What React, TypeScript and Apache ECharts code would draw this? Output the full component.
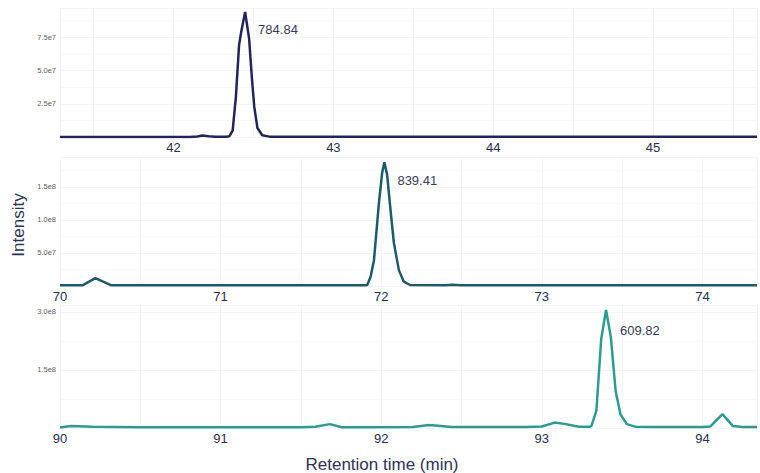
import React, { useEffect, useRef } from "react";
import * as echarts from "echarts";

// Panel 1 (peak 784.84)
const time1 = [41.29, 42.1, 42.15, 42.18, 42.22, 42.26, 42.33, 42.35, 42.37, 42.39, 42.41, 42.425, 42.448, 42.473, 42.49, 42.505, 42.525, 42.555, 42.6, 43.5, 45.65];
const int1 = [0.03e7, 0.03e7, 0.06e7, 0.13e7, 0.08e7, 0.04e7, 0.04e7, 0.08e7, 0.5e7, 3.0e7, 6.9e7, 8.0e7, 9.4e7, 7.4e7, 4.5e7, 2.3e7, 0.7e7, 0.15e7, 0.05e7, 0.04e7, 0.04e7];

// Panel 2 (peak 839.41)
const time2 = [70.0, 70.14, 70.22, 70.32, 71.9, 71.913, 71.934, 71.955, 71.986, 72.006, 72.02, 72.037, 72.058, 72.079, 72.11, 72.141, 72.18, 72.4, 72.44, 72.5, 74.34];
const int2 = [0.1e7, 0.1e7, 1.2e7, 0.1e7, 0.1e7, 0.15e7, 1.4e7, 3.9e7, 12.6e7, 17.1e7, 18.7e7, 16.8e7, 11.5e7, 6.5e7, 2.4e7, 0.65e7, 0.15e7, 0.12e7, 0.2e7, 0.1e7, 0.1e7];

// Panel 3 (peak 609.82)
const time3 = [90.0, 90.07, 90.2, 90.5, 91.5, 91.59, 91.68, 91.755, 91.9, 92.196, 92.3, 92.44, 92.9, 93.0, 93.08, 93.15, 93.23, 93.3, 93.31, 93.34, 93.37, 93.4, 93.43, 93.46, 93.49, 93.53, 93.58, 93.7, 94.0, 94.05, 94.125, 94.19, 94.25, 94.34];
const int3 = [0.1e7, 0.5e7, 0.3e7, 0.2e7, 0.2e7, 0.3e7, 1.0e7, 0.2e7, 0.2e7, 0.25e7, 0.75e7, 0.25e7, 0.25e7, 0.4e7, 1.4e7, 1.0e7, 0.3e7, 0.3e7, 0.6e7, 4.5e7, 23.0e7, 30.5e7, 23.5e7, 9.5e7, 3.5e7, 1.0e7, 0.35e7, 0.25e7, 0.25e7, 0.4e7, 3.6e7, 0.5e7, 0.25e7, 0.25e7];

const peakLabels = ["784.84", "839.41", "609.82"];
const xRanges = [[41.29, 45.65], [70, 74.34], [90, 94.34]];
const yMax = [9.7e7, 1.95e8, 3.18e8];
const yInterval = [2.5e7, 5e7, 1.5e8];
const colors = ["#23255a", "#1f5a6a", "#2a9d8f"];

const FONT = "Liberation Sans, Arial, sans-serif";

export default function App() {
  const ref = useRef<HTMLDivElement>(null);
  useEffect(() => {
    if (!ref.current) return;
    const chart = echarts.init(ref.current, undefined, { renderer: "svg" });
    const times = [time1, time2, time3];
    const ints = [int1, int2, int3];
    const grids = [
      { left: 60, right: 0, top: 8, height: 129.3 },
      { left: 60, right: 0, top: 157, height: 129 },
      { left: 60, right: 0, top: 305, height: 123 },
    ];
    const labelOffsets = [[8, 18], [8, 18], [9, 20]];
    const option: any = {
      animation: false,
      backgroundColor: "#ffffff",
      textStyle: { fontFamily: FONT },
      grid: grids,
      xAxis: grids.map((_, i) => ({
        type: "value",
        gridIndex: i,
        min: xRanges[i][0],
        max: xRanges[i][1],
        minInterval: 0.5,
        maxInterval: 0.5,
        axisLine: { show: false },
        axisTick: { show: false },
        axisLabel: {
          interval: 0,
          margin: 4,
          fontSize: 13,
          color: "#2b2d4a",
          fontFamily: FONT,
          formatter: (v: number) => (Math.abs(v - Math.round(v)) < 1e-6 ? String(Math.round(v)) : ""),
        },
        splitLine: { show: true, lineStyle: { color: "#f4f4f7", width: 1 } },
      })),
      yAxis: grids.map((_, i) => ({
        type: "value",
        gridIndex: i,
        min: 0,
        max: yMax[i],
        interval: yInterval[i],
        axisLine: { show: false },
        axisTick: { show: false },
        axisLabel: {
          showMaxLabel: false,
          margin: 4,
          fontSize: 7.5,
          color: "#5c5c66",
          fontFamily: FONT,
          formatter: (v: number) => (v === 0 ? "" : v.toExponential(1).replace("e+", "e")),
        },
        splitLine: { show: true, lineStyle: { color: "#f4f4f7", width: 1 } },
        minorTick: { show: false, splitNumber: 2 },
        minorSplitLine: { show: true, lineStyle: { color: "#f8f8fa", width: 1 } },
      })),
      series: [0, 1, 2].map((i) => {
        let pk = 0;
        ints[i].forEach((v, j) => {
          if (v > ints[i][pk]) pk = j;
        });
        return {
          type: "line",
          xAxisIndex: i,
          yAxisIndex: i,
          showSymbol: false,
          symbol: "none",
          smooth: false,
          lineStyle: { color: colors[i], width: 2.5 },
          data: times[i].map((t, j) => [t, ints[i][j]]),
          markPoint: {
            symbol: "circle",
            symbolSize: 0,
            silent: true,
            label: {
              show: true,
              position: "right",
              distance: 5,
              offset: labelOffsets[i],
              formatter: peakLabels[i],
              fontSize: 13,
              color: "#3a3b58",
              fontFamily: FONT,
            },
            data: [{ coord: [times[i][pk], ints[i][pk]] }],
          },
        };
      }),
      graphic: [
        {
          type: "text",
          x: 18,
          y: 225,
          rotation: Math.PI / 2,
          style: {
            text: "Intensity",
            fontSize: 17,
            fontFamily: FONT,
            fill: "#2f3258",
            align: "center",
            verticalAlign: "middle",
          },
        },
        {
          type: "text",
          x: 382,
          y: 464,
          style: {
            text: "Retention time (min)",
            fontSize: 17,
            fontFamily: FONT,
            fill: "#2f3258",
            align: "center",
            verticalAlign: "middle",
          },
        },
      ],
    };
    chart.setOption(option);
    return () => chart.dispose();
  }, []);
  return (
    <div
      ref={ref}
      style={{ position: "fixed", left: 0, top: 0, width: 760, height: 473, background: "#fff" }}
    />
  );
}
